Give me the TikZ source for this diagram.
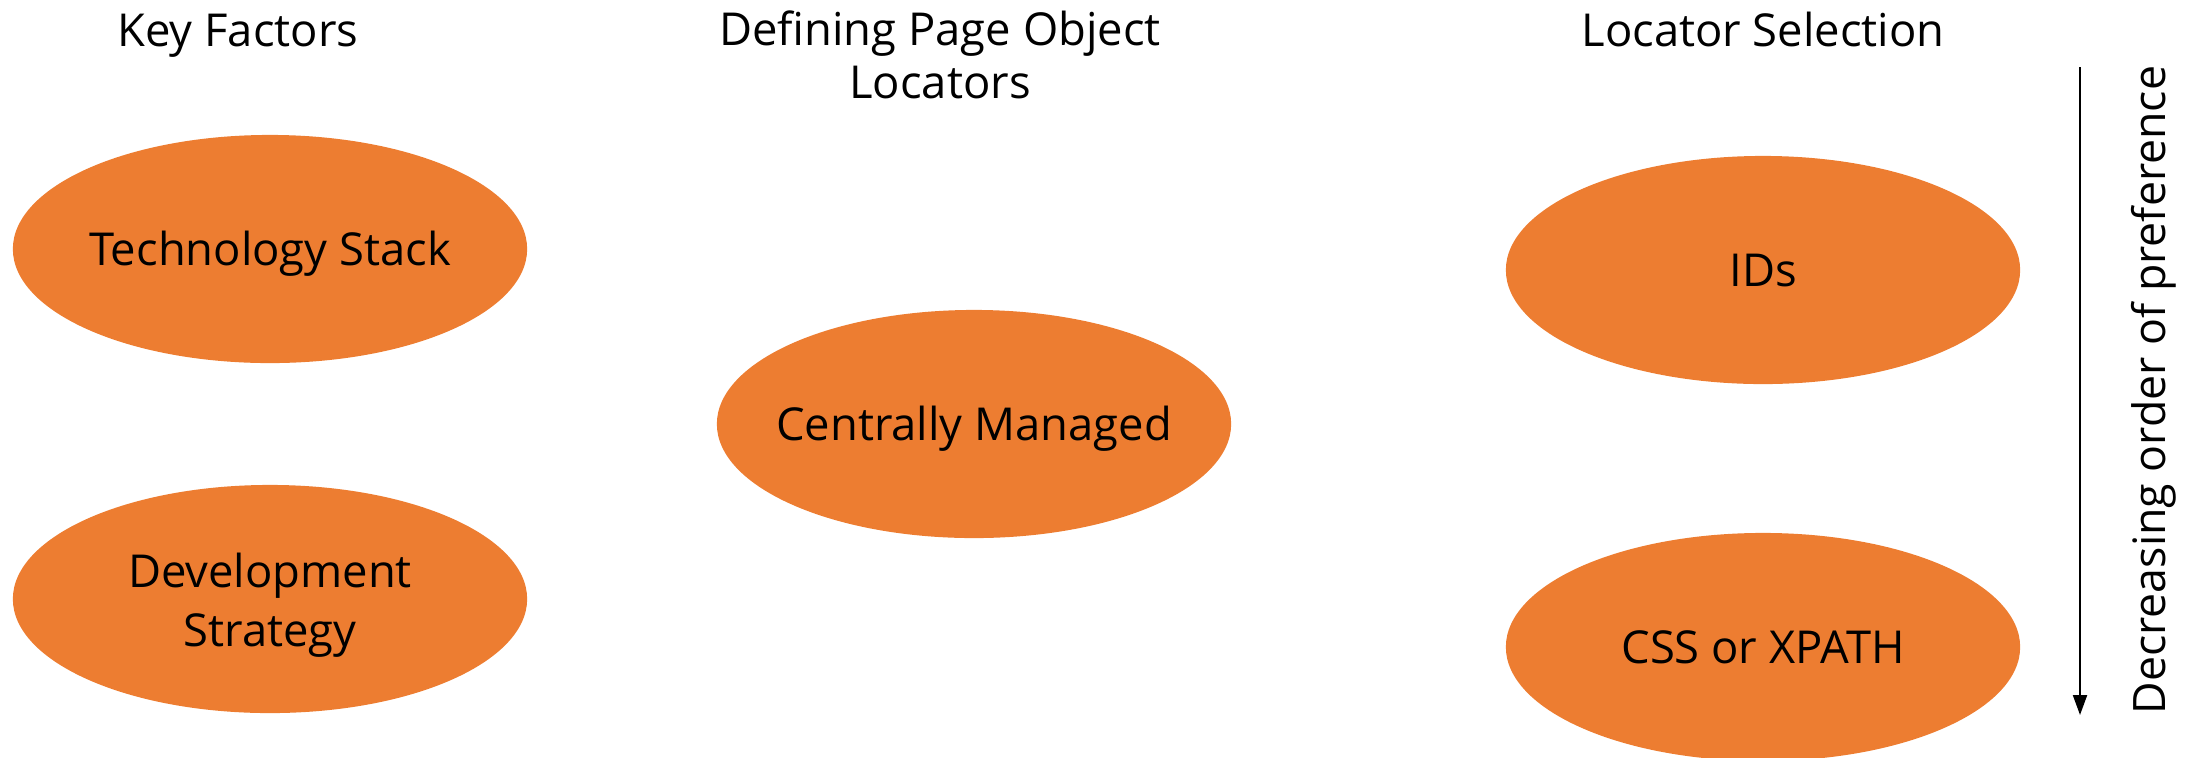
\documentclass[tikz,border=0pt]{standalone}
\usepackage{fontspec}
\setmainfont{Open Sans}
\usetikzlibrary{shapes.geometric,arrows.meta}
\definecolor{accent}{HTML}{ED7D31}
\tikzset{
  oval/.style={ellipse, fill=accent, draw=none, minimum width=5.14cm, minimum height=2.28cm, inner sep=0pt},
  ovaltext/.style={font=\fontsize{12.9}{16.8}\selectfont, inner sep=0pt, text height=9.2pt, text depth=0pt},
  head/.style={font=\fontsize{12.9}{14.8}\selectfont, inner sep=0pt, align=center},
}
\begin{document}
\begin{tikzpicture}[x=0.01cm,y=-0.01cm]
\useasboundingbox (0,0) rectangle (2200,757);
\node[head, anchor=base] (h1) at (238,46) {Key Factors};
\node[head, anchor=base] (h2) at (940,98) {Defining Page Object\\Locators};
\node[head, anchor=base] (h3) at (1763,46) {Locator Selection};
\node[oval, label={[ovaltext]center:Technology Stack}] (tech) at (270,249) {};
\node[oval, label={[font=\fontsize{12.9}{16.8}\selectfont, inner sep=0pt, align=center, yshift=-0.06cm]center:Development\\Strategy}] (dev) at (270,599) {};
\node[oval, label={[ovaltext]center:Centrally Managed}] (cent) at (974,424) {};
\node[oval, label={[ovaltext]center:IDs}] (ids) at (1763,270) {};
\node[oval, label={[ovaltext]center:CSS or XPATH}] (css) at (1763,647) {};
\coordinate (atop) at (2080,67);
\coordinate (abot) at (2080,715);
\draw[line width=0.6pt, -{Triangle[length=2mm,width=1.4mm]}] (atop) -- (abot);
\node[rotate=90, anchor=base west, inner sep=0pt, font=\fontsize{12.7}{16}\selectfont] (pref) at (2165,715) {Decreasing order of preference};
\end{tikzpicture}
\end{document}
